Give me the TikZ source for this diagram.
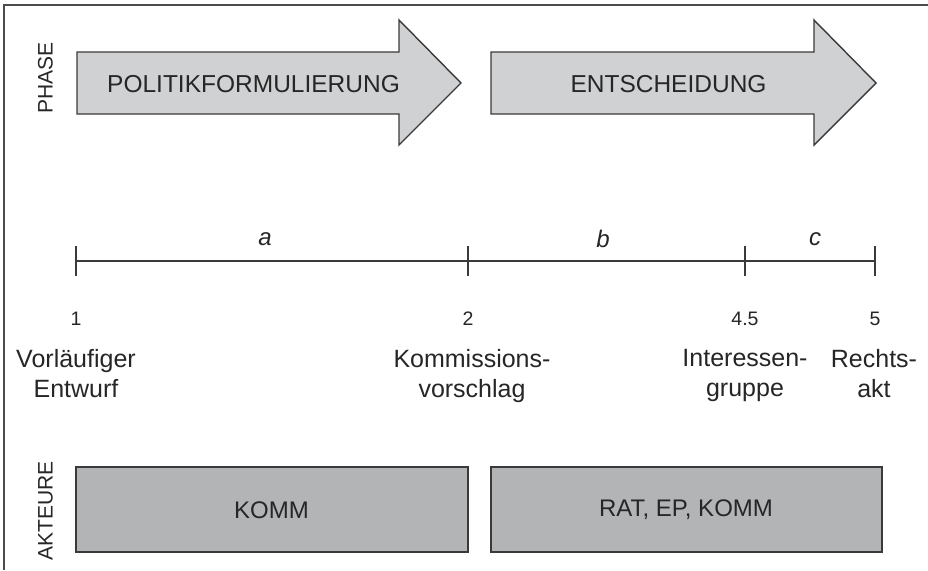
\documentclass[tikz,border=0pt]{standalone}
\usepackage{fontspec}
\setmainfont{Liberation Sans}
\usetikzlibrary{calc}
\begin{document}
\begin{tikzpicture}[x=1pt,y=-1pt,
  arrowfill/.style={fill=arrowgray,draw=linegray,line width=1.4pt},
  actorbox/.style={fill=boxgray,draw=linegray,line width=1.4pt},
  bigtxt/.style={font=\fontsize{24.5}{28}\selectfont,text=black!85},
  sidetxt/.style={font=\fontsize{21}{24}\selectfont,rotate=90,text=black!85},
  numtxt/.style={font=\fontsize{19.5}{22}\selectfont,text=black!85,anchor=north,inner sep=0pt},
  lbltxt/.style={font=\fontsize{25}{30}\selectfont,align=center,text=black!85,anchor=north,inner sep=0pt},
  boxtxt/.style={font=\fontsize{24}{28}\selectfont,text=black!85},
  itxt/.style={font=\fontsize{24}{26}\selectfont\itshape,text=black!85},
  tl/.style={line width=1.3pt,draw=linegray}]
\definecolor{arrowgray}{HTML}{D0D1D3}
\definecolor{boxgray}{HTML}{B3B4B6}
\definecolor{linegray}{HTML}{3A3A3A}
\useasboundingbox (0,0) rectangle (928,570);
% frame
\draw[line width=1.6pt,draw=black!70] (4,570) -- (4,5) -- (928,5);
% phase
\node[sidetxt] (phase) at (45.5,78) {PHASE};
\draw[arrowfill] (77,52) -- (399,52) -- (399,20) -- (461,83) -- (399,145) -- (399,114) -- (77,114) -- cycle;
\draw[arrowfill] (491,52) -- (814,52) -- (814,20) -- (876,83) -- (814,145) -- (814,114) -- (491,114) -- cycle;
\node[bigtxt] (pf) at (253.5,84) {POLITIKFORMULIERUNG};
\node[bigtxt] (ent) at (668.5,84) {ENTSCHEIDUNG};
% timeline
\coordinate (t1) at (76,261);
\coordinate (t2) at (468,261);
\coordinate (t3) at (745,261);
\coordinate (t4) at (875,261);
\draw[tl] (t1) -- (t4);
\foreach \p in {t1,t2,t3,t4}{\draw[tl] ($(\p)+(0,-15)$) -- ($(\p)+(0,15)$);}
\node[itxt] (a) at (265,239) {a};
\node[itxt] (b) at (603,239) {b};
\node[itxt] (c) at (815,239) {c};
\node[numtxt] (n1) at (76,312) {1};
\node[numtxt] (n2) at (468,312) {2};
\node[numtxt] (n3) at (745,312) {4.5};
\node[numtxt] (n4) at (875,312) {5};
\node[lbltxt] (l1) at (76,349) {Vorläufiger\\Entwurf};
\node[lbltxt] (l2) at (472,349) {Kommissions-\\vorschlag};
\node[lbltxt] (l3) at (745,349) {Interessen-\\gruppe};
\node[lbltxt] (l4) at (874,349) {Rechts-\\akt};
% actors
\node[sidetxt] (akt) at (45.5,511) {AKTEURE};
\draw[actorbox] (76,467) rectangle (468,552);
\draw[actorbox] (491,467) rectangle (882,552);
\node[boxtxt] (k1) at (271.5,510) {KOMM};
\node[boxtxt] (k2) at (686,510) {RAT, EP, KOMM};
\end{tikzpicture}
\end{document}
